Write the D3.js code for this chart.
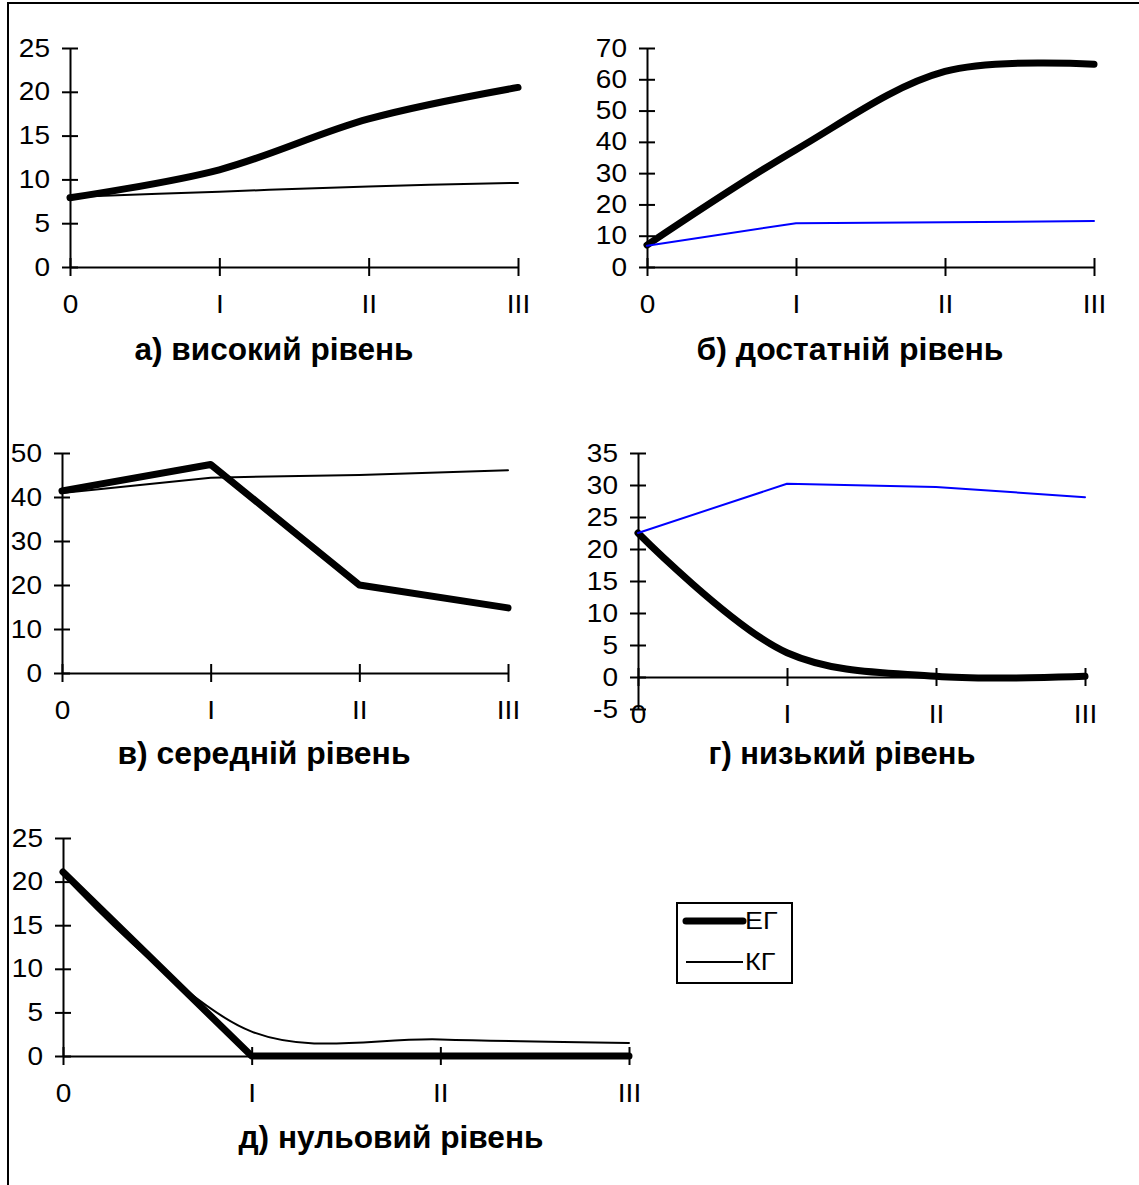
<!DOCTYPE html>
<html>
<head>
<meta charset="utf-8">
<script src="https://cdn.jsdelivr.net/npm/d3@7"></script>
<style>
  body { margin: 0; background: #fff; }
  svg { display: block; font-family: "Liberation Sans", Arial, sans-serif; }
</style>
</head>
<body>
<svg id="chart" width="1139" height="1185"></svg>
<script>
// ── data ─────────────────────────────────────────────────────────────────────
const stages = ['0', 'I', 'II', 'III'];

const egHigh = [7.9, 11.1, 16.9, 20.5];
const kgHigh = [8.0, 8.6, 9.2, 9.6];

const egSuff = [7.0, 37.5, 62.5, 64.8];
const kgSuff = [6.8, 14.0, 14.3, 14.7];

const egMid = [41.4, 47.4, 20.0, 14.8];
const kgMid = [40.9, 44.4, 45.0, 46.1];

const egLow = [22.5, 3.8, 0.1, 0.1];
const kgLow = [22.5, 30.2, 29.7, 28.1];

const egZero = [21.1, 0, 0, 0];
const kgZero = [20.8, 2.8, 1.9, 1.5];

const titles = ['а) високий рівень', 'б) достатній рівень', 'в) середній рівень',
                'г) низький рівень', 'д) нульовий рівень'];
const legendLabels = ['ЕГ', 'КГ'];

// ── layout ───────────────────────────────────────────────────────────────────
// the original picture is slightly stretched sideways, so text gets a small x-scale
const TEXT_SX = 1.12;

const panels = [
  { eg: egHigh, kg: kgHigh, title: titles[0], x0: 70,  x1: 518,  yTop: 48,  yBot: 267,  dom: [0, 25],  step: 5,
    egSmooth: true,  kgSmooth: true,  kgColor: '#000', tx: 274, ty: 349, tw: 279 },
  { eg: egSuff, kg: kgSuff, title: titles[1], x0: 647, x1: 1094, yTop: 48,  yBot: 267,  dom: [0, 70],  step: 10,
    egSmooth: true,  kgSmooth: false, kgColor: '#0000ff', tx: 850, ty: 349, tw: 307 },
  { eg: egMid,  kg: kgMid,  title: titles[2], x0: 62,  x1: 508,  yTop: 453, yBot: 673,  dom: [0, 50],  step: 10,
    egSmooth: false, kgSmooth: false, kgColor: '#000', tx: 264, ty: 753, tw: 293 },
  { eg: egLow,  kg: kgLow,  title: titles[3], x0: 638, x1: 1085, yTop: 453, yBot: 709,  dom: [-5, 35], step: 5,
    egSmooth: true,  kgSmooth: false, kgColor: '#0000ff', tx: 842, ty: 753, tw: 267 },
  { eg: egZero, kg: kgZero, title: titles[4], x0: 63,  x1: 629,  yTop: 838, yBot: 1056, dom: [0, 25],  step: 5,
    egSmooth: false, kgSmooth: true,  kgColor: '#000', tx: 391, ty: 1137, tw: 305 }
];

const svg = d3.select('#chart');

svg.append('rect').attr('width', 1139).attr('height', 1185).attr('fill', '#fff');

// outer frame (only top and left edges are inside the picture)
svg.append('path')
  .attr('d', 'M8,1185V3H1139')
  .attr('fill', 'none')
  .attr('stroke', '#000')
  .attr('stroke-width', 2);

panels.forEach(p => {
  const g = svg.append('g');

  const x = d3.scalePoint().domain(stages).range([p.x0, p.x1]);
  const y = d3.scaleLinear().domain(p.dom).range([p.yBot, p.yTop]);
  const yTicks = d3.range(p.dom[0], p.dom[1] + p.step / 2, p.step);

  // y axis — ticks cross the line
  const yAxis = g.append('g')
    .attr('transform', `translate(${p.x0},0)`)
    .call(d3.axisLeft(y).tickValues(yTicks).tickFormat(d => String(d))
      .tickSizeInner(8).tickSizeOuter(0));
  yAxis.selectAll('.tick line').attr('x1', 8);
  yAxis.selectAll('.tick text')
    .attr('x', 0)
    .attr('transform', `translate(-20,0) scale(${TEXT_SX},1)`)
    .attr('font-size', 25).attr('font-family', 'Liberation Sans, Arial, sans-serif').attr('fill', '#000');

  // x axis at value 0
  const xAxis = g.append('g')
    .attr('transform', `translate(0,${y(0)})`)
    .call(d3.axisBottom(x).tickSizeInner(9).tickSizeOuter(0));
  xAxis.selectAll('.tick line').attr('y1', -9);
  xAxis.selectAll('.tick text')
    .attr('y', 0).attr('dy', '0.35em')
    .attr('transform', `translate(0,37) scale(${TEXT_SX},1)`)
    .attr('font-size', 25).attr('font-family', 'Liberation Sans, Arial, sans-serif').attr('fill', '#000');

  g.selectAll('.domain, .tick line').attr('stroke', '#000').attr('stroke-width', 2);

  // series lines
  const line = smooth => d3.line()
    .x((d, i) => x(stages[i]))
    .y(d => y(d))
    .curve(smooth ? d3.curveCatmullRom.alpha(0.5) : d3.curveLinear);

  g.append('path')
    .datum(p.eg)
    .attr('d', line(p.egSmooth))
    .attr('fill', 'none')
    .attr('stroke', '#000')
    .attr('stroke-width', 7)
    .attr('stroke-linecap', 'round')
    .attr('stroke-linejoin', 'round');

  g.append('path')
    .datum(p.kg)
    .attr('d', line(p.kgSmooth))
    .attr('fill', 'none')
    .attr('stroke', p.kgColor)
    .attr('stroke-width', 2)
    .attr('stroke-linecap', 'round')
    .attr('stroke-linejoin', 'round');

  // panel caption, stretched to the width it has in the original
  g.append('text')
    .attr('x', p.tx - p.tw / 2).attr('y', p.ty)
    .attr('dy', '0.35em')
    .attr('font-size', 32)
    .attr('font-weight', 'bold')
    .attr('textLength', p.tw)
    .attr('lengthAdjust', 'spacingAndGlyphs')
    .text(p.title);
});

// ── legend ───────────────────────────────────────────────────────────────────
const legend = svg.append('g').attr('transform', 'translate(677,903)');
legend.append('rect')
  .attr('width', 115).attr('height', 80)
  .attr('fill', '#fff').attr('stroke', '#000').attr('stroke-width', 2);

legendLabels.forEach((lab, i) => {
  const ly = 18 + i * 41;
  legend.append('line')
    .attr('x1', 9).attr('x2', 66).attr('y1', ly).attr('y2', ly)
    .attr('stroke', '#000')
    .attr('stroke-width', i === 0 ? 7 : 2)
    .attr('stroke-linecap', i === 0 ? 'round' : 'butt');
  legend.append('text')
    .attr('x', 0).attr('y', 0).attr('dy', '0.35em')
    .attr('transform', `translate(68,${ly}) scale(${TEXT_SX},1)`)
    .attr('font-size', 24)
    .text(lab);
});
</script>
</body>
</html>
